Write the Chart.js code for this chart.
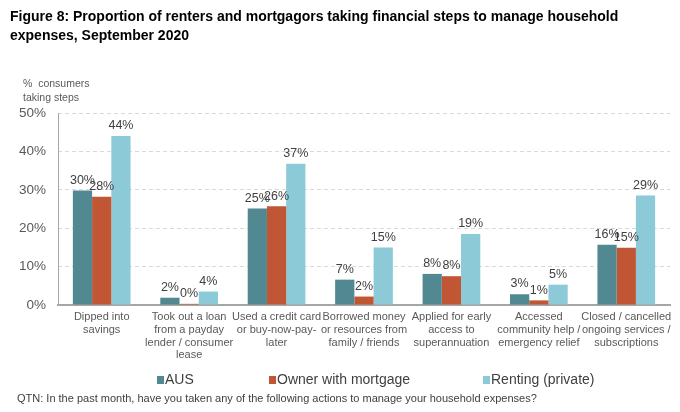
<!DOCTYPE html>
<html>
<head>
<meta charset="utf-8">
<script src="https://cdn.jsdelivr.net/npm/chart.js@4/dist/chart.umd.min.js"></script>
<style>
  html, body { margin: 0; padding: 0; background: #fff; }
  body { width: 680px; height: 412px; position: relative; overflow: hidden; font-family: "Liberation Sans", Arial, sans-serif; }
  #wrap { position: absolute; left: 0; top: 0; width: 680px; height: 412px; }
  .txt { position: absolute; white-space: nowrap; }
  #title { left: 10px; top: 7px; font-size: 14px; font-weight: bold; color: #000; line-height: 19px; white-space: normal; width: 660px; }
  #ytitle { left: 23px; top: 76px; font-size: 10.5px; color: #595959; line-height: 14px; }
  #legend { position: absolute; left: 0; top: 370px; width: 680px; height: 18px; }
  .li { position: absolute; top: 0; font-size: 14px; color: #404040; line-height: 18px; }
  .sw { display: inline-block; width: 7px; height: 8px; margin-right: 1px; vertical-align: -0px; }
  #foot { left: 17px; top: 392px; font-size: 11px; color: #404040; }
</style>
</head>
<body>
<div id="wrap"><canvas id="c" width="680" height="412"></canvas></div>
<div id="title" class="txt">Figure 8: Proportion of renters and mortgagors taking financial steps to manage household expenses, September 2020</div>
<div id="ytitle" class="txt">%&nbsp; consumers<br>taking steps</div>
<div id="legend"></div>
<div id="foot" class="txt">QTN: In the past month, have you taken any of the following actions to manage your household expenses?</div>
<script>
const categories = [
  ["Dipped into", "savings"],
  ["Took out a loan", "from a payday", "lender / consumer", "lease"],
  ["Used a credit card", "or buy-now-pay-", "later"],
  ["Borrowed money", "or resources from", "family / friends"],
  ["Applied for early", "access to", "superannuation"],
  ["Accessed", "community help /", "emergency relief"],
  ["Closed / cancelled", "ongoing services /", "subscriptions"]
];
const seriesNames = ["AUS", "Owner with mortgage", "Renting (private)"];
const ausValues     = [29.8, 1.9, 25.1, 6.6, 8.1, 2.8, 15.7];
const mortgageValues = [28.2, 0.3, 25.7, 2.2, 7.5, 1.2, 14.9];
const rentingValues = [44.0, 3.5, 36.8, 15.0, 18.5, 5.3, 28.5];
const yTickValues = [0, 10, 20, 30, 40, 50];

const colors = ["#528891", "#C05634", "#8BCAD6"];
const legendLeft = [157, 269, 483];

const allValues = [ausValues, mortgageValues, rentingValues];

const axisLinePlugin = {
  id: 'solidYAxis',
  beforeDatasetsDraw(chart) {
    const { ctx, chartArea } = chart;
    ctx.save();
    ctx.strokeStyle = '#A6A6A6';
    ctx.lineWidth = 1;
    ctx.beginPath();
    ctx.moveTo(chartArea.left + 0.5, chartArea.top);
    ctx.lineTo(chartArea.left + 0.5, chartArea.bottom);
    ctx.stroke();
    ctx.restore();
  }
};

const labelPlugin = {
  id: 'barLabels',
  afterDatasetsDraw(chart) {
    const ctx = chart.ctx;
    ctx.save();
    ctx.font = '12.5px "Liberation Sans", Arial, sans-serif';
    ctx.fillStyle = '#404040';
    ctx.textAlign = 'center';
    ctx.textBaseline = 'bottom';
    chart.data.datasets.forEach((ds, i) => {
      const meta = chart.getDatasetMeta(i);
      meta.data.forEach((el, j) => {
        ctx.fillText(Math.round(ds.data[j]) + '%', el.x, el.y - 4);
      });
    });
    ctx.restore();
  }
};

new Chart(document.getElementById('c'), {
  type: 'bar',
  data: {
    labels: categories,
    datasets: seriesNames.map((n, i) => ({
      label: n,
      data: allValues[i],
      backgroundColor: colors[i],
      borderWidth: 0,
      categoryPercentage: 0.66,
      barPercentage: 1.0
    }))
  },
  options: {
    responsive: false,
    animation: false,
    devicePixelRatio: 1,
    layout: { padding: { top: 113, left: 0, right: 10, bottom: 0 } },
    plugins: { legend: { display: false }, tooltip: { enabled: false } },
    scales: {
      x: {
        grid: { display: false, drawTicks: false },
        border: { display: true, color: '#A6A6A6', width: 2 },
        ticks: {
          color: '#595959',
          font: { family: '"Liberation Sans", Arial, sans-serif', size: 11, lineHeight: 1.15 },
          padding: 6,
          maxRotation: 0,
          autoSkip: false
        },
        afterFit(scale) { scale.height = 107; }
      },
      y: {
        min: 0, max: 50,
        afterBuildTicks(scale) { scale.ticks = yTickValues.map(v => ({ value: v })); },
        grid: { color: '#D9D9D9', drawTicks: false },
        border: { display: false, dash: [4, 3] },
        ticks: {
          color: '#595959',
          font: { family: '"Liberation Sans", Arial, sans-serif', size: 13.5 },
          padding: 12,
          callback: v => v + '%'
        },
        afterFit(scale) { scale.width = 58; }
      }
    }
  },
  plugins: [axisLinePlugin, labelPlugin]
});

const legend = document.getElementById('legend');
seriesNames.forEach((n, i) => {
  const d = document.createElement('div');
  d.className = 'li';
  d.style.left = legendLeft[i] + 'px';
  const s = document.createElement('span');
  s.className = 'sw';
  s.style.background = colors[i];
  d.appendChild(s);
  d.appendChild(document.createTextNode(n));
  legend.appendChild(d);
});
</script>
</body>
</html>
